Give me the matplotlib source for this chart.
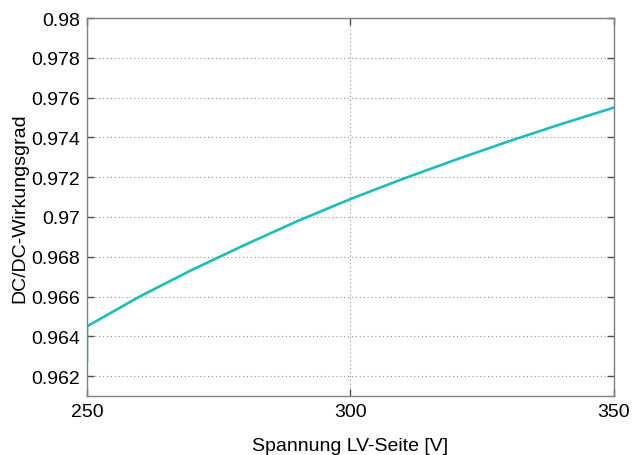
import numpy as np
import matplotlib.pyplot as plt

plt.rcParams['font.family'] = ['Liberation Sans', 'DejaVu Sans']

# efficiency of the DC/DC stage vs. low-voltage side voltage
u_lv = [250, 250, 260, 270, 280, 290, 300, 310, 320, 330, 340, 350]
eta = [0.9628, 0.9645, 0.9660, 0.96735, 0.96860, 0.96980, 0.97090,
       0.97192, 0.97288, 0.97380, 0.97467, 0.97550]

y_ticks = [0.962, 0.964, 0.966, 0.968, 0.97, 0.972, 0.974, 0.976, 0.978, 0.98]
y_ticklabels = ['0.962', '0.964', '0.966', '0.968', '0.97', '0.972',
                '0.974', '0.976', '0.978', '0.98']
x_ticks = [250, 300, 350]

fig = plt.figure(figsize=(6.33, 4.56), dpi=100)
ax = fig.add_axes([0.1374, 0.1294, 0.8326, 0.8289])

ax.plot(u_lv, eta, color='#1cbfb8', linewidth=1.9, solid_joinstyle='round')

ax.set_xlim(250, 350)
ax.set_ylim(0.961, 0.98)
ax.set_xticks(x_ticks)
ax.set_yticks(y_ticks)
ax.set_yticklabels(y_ticklabels)

ax.grid(True, linestyle=(0, (1, 2.5)), color='#909090', linewidth=0.8)
for sp in ax.spines.values():
    sp.set_color('#808080')
    sp.set_linewidth(1.0)
ax.tick_params(direction='in', length=5, width=1.0, color='#505050',
               labelsize=14, top=True, right=True, pad=5)

ax.set_xlabel('Spannung LV-Seite [V]', fontsize=14, labelpad=12)
ax.set_ylabel('DC/DC-Wirkungsgrad', fontsize=14, labelpad=2)

fig.savefig('out.png', dpi=100)
